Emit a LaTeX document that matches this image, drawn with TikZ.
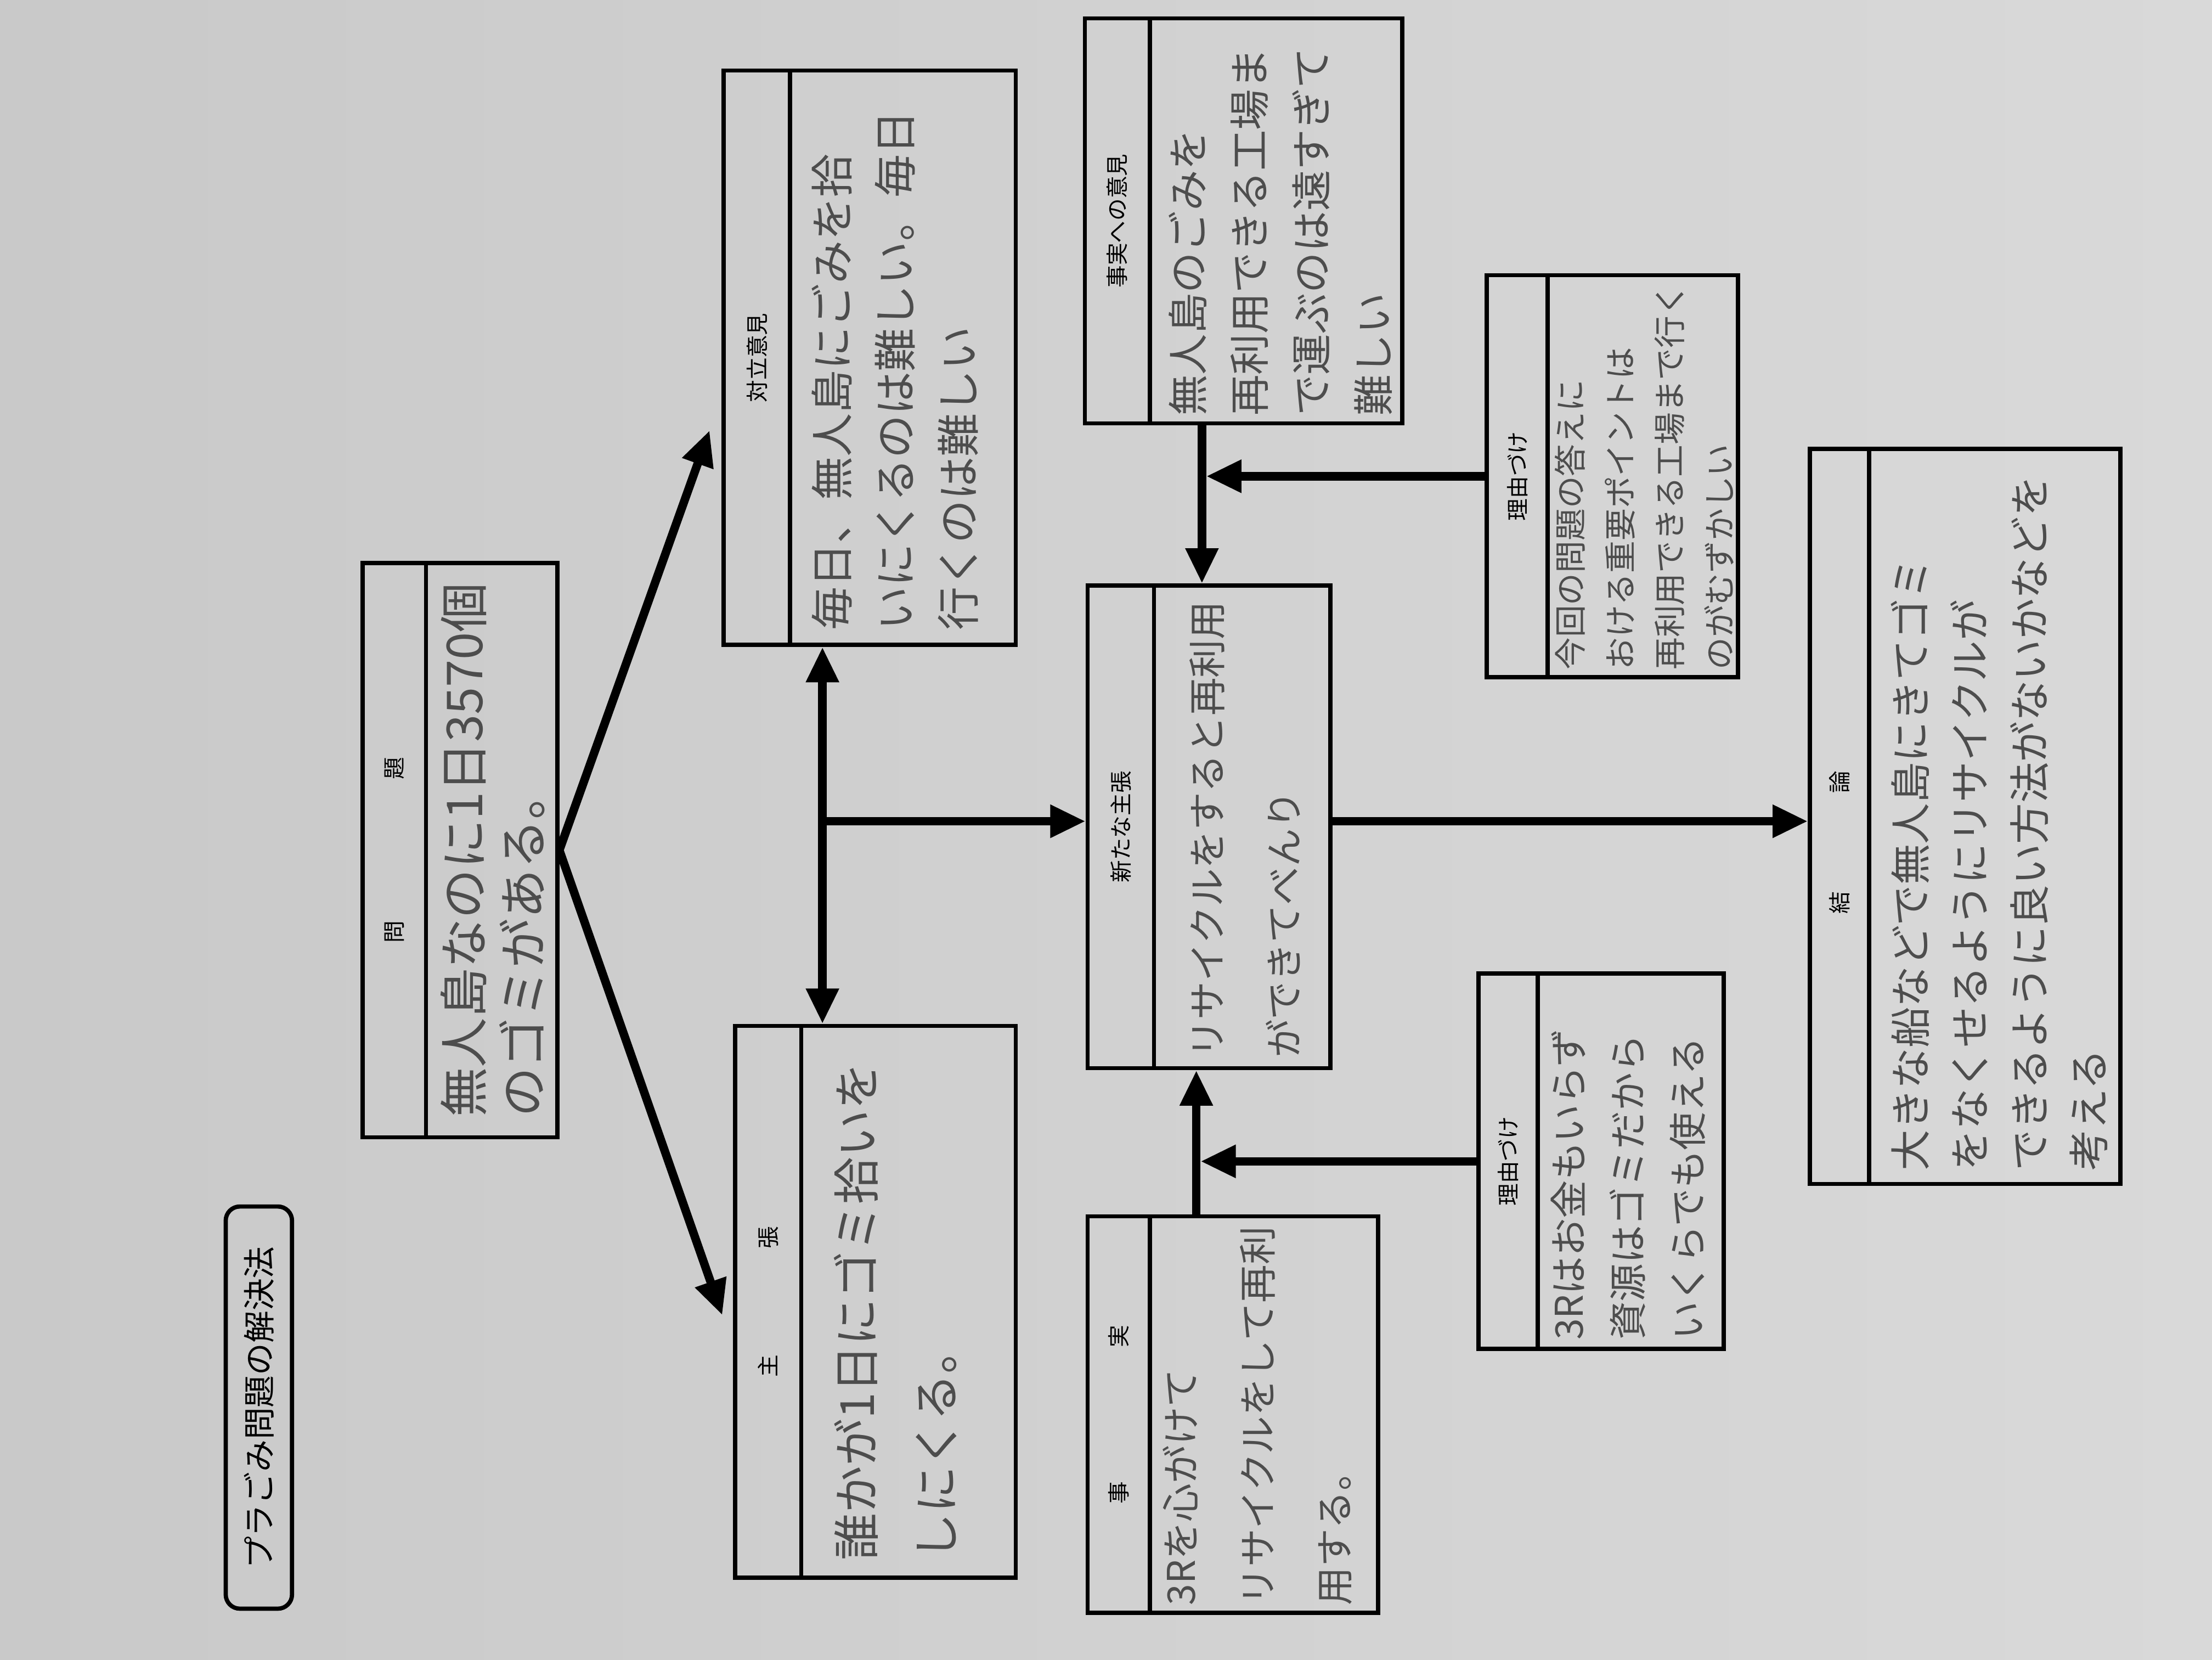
\documentclass[tikz,border=0pt]{standalone}
\usepackage{fontspec}
\newfontfamily\jpfont{Noto Sans CJK JP}
\usetikzlibrary{arrows.meta,fit,calc}
\definecolor{paperL}{HTML}{C9C9C9}
\definecolor{paperR}{HTML}{D9D9D9}
\definecolor{pencil}{HTML}{4D4D4D}
\tikzset{
  sheet/.style={draw=black, line width=0.6mm, inner sep=0pt},
  headlabel/.style={font=\jpfont\fontsize{9pt}{11pt}\selectfont, rotate=90, inner sep=0pt},
  hand/.style 2 args={font=\jpfont\fontsize{#1}{#2}\selectfont, text=pencil, rotate=90, anchor=north west, align=left, inner sep=0pt},
  flow/.style={line width=1.2mm, -{Triangle[length=5mm,width=4.4mm]}},
  flowboth/.style={line width=1.2mm, {Triangle[length=5mm,width=4.4mm]}-{Triangle[length=5mm,width=4.4mm]}},
}
\begin{document}
\begin{tikzpicture}[x=0.2mm,y=-0.2mm]
  \shade[left color=paperL, right color=paperR] (0,0) rectangle (1568,1176);
  \useasboundingbox (0,0) rectangle (1568,1176);

  \node[sheet, rounded corners=2mm, fit={(160,855) (207,1140)}] (title) {};
  \node[rotate=90, font=\jpfont\fontsize{13pt}{15pt}\selectfont] (title-text) at (title.center) {プラごみ問題の解決法};

  \node[sheet, fit={(257,399) (395,806)}] (mondai) {};
  \draw[line width=0.6mm] (302,399) -- (302,806);
  \node[headlabel] (mondai-head) at (279.5,602.5) {問\hspace{20mm}題};
  \node[hand={20pt}{24pt}] (mondai-text) at (312,792) {無人島なのに1日3570個\\のゴミがある。};

  \node[sheet, fit={(513,50) (720,457)}] (tairitsu) {};
  \draw[line width=0.6mm] (560,50) -- (560,457);
  \node[headlabel] (tairitsu-head) at (536.5,253.5) {対立意見};
  \node[hand={17.5pt}{25.5pt}] (tairitsu-text) at (575,447) {毎日、無人島にごみを拾\\いにくるのは難しい。毎日\\行くのは難しい};

  \node[sheet, fit={(521,727) (720,1118)}] (shuchou) {};
  \draw[line width=0.6mm] (568,727) -- (568,1118);
  \node[headlabel] (shuchou-head) at (544.5,922.5) {主\hspace{15mm}張};
  \node[hand={19pt}{32pt}] (shuchou-text) at (591,1106) {誰かが1日にゴミ拾いを\\しにくる。};

  \node[sheet, fit={(771,415) (943,757)}] (arata) {};
  \draw[line width=0.6mm] (818,415) -- (818,757);
  \node[headlabel] (arata-head) at (794.5,586) {新たな主張};
  \node[hand={15.4pt}{31pt}] (arata-text) at (843,750) {リサイクルをすると再利用\\ができてべんり};

  \node[sheet, fit={(769,13) (994,300)}] (jijitsuiken) {};
  \draw[line width=0.6mm] (815,13) -- (815,300);
  \node[headlabel] (jijitsuiken-head) at (792,156.5) {事実への意見};
  \node[hand={16.5pt}{25pt}] (jijitsuiken-text) at (828,295) {無人島のごみを\\再利用できる工場ま\\で運ぶのは遠すぎて\\難しい};

  \node[sheet, fit={(1054,195) (1232,480)}] (riyuA) {};
  \draw[line width=0.6mm] (1097,195) -- (1097,480);
  \node[headlabel] (riyuA-head) at (1075.5,337.5) {理由づけ};
  \node[hand={13pt}{20pt}] (riyuA-text) at (1102,475) {今回の問題の答えに\\おける重要ポイントは\\再利用できる工場まで行く\\のがむずかしい};

  \node[sheet, fit={(1048,690) (1222,956)}] (riyuB) {};
  \draw[line width=0.6mm] (1090,690) -- (1090,956);
  \node[headlabel] (riyuB-head) at (1069,823) {理由づけ};
  \node[hand={15.4pt}{24pt}] (riyuB-text) at (1099,950) {3Rはお金もいらず\\資源はゴミだから\\いくらでも使える};

  \node[sheet, fit={(771,862) (977,1143)}] (jijitsu) {};
  \draw[line width=0.6mm] (815,862) -- (815,1143);
  \node[headlabel] (jijitsu-head) at (793,1002.5) {事\hspace{19mm}実};
  \node[hand={15.4pt}{31pt}] (jijitsu-text) at (824,1138) {3Rを心がけて\\リサイクルをして再利\\用する。};

  \node[sheet, fit={(1283,318) (1503,839)}] (ketsuron) {};
  \draw[line width=0.6mm] (1325,318) -- (1325,839);
  \node[headlabel] (ketsuron-head) at (1304,597) {結\hspace{14mm}論};
  \node[hand={16.5pt}{24pt}] (ketsuron-text) at (1340,830) {大きな船などで無人島にきてゴミ\\をなくせるようにリサイクルが\\できるように良い方法がないかなどを\\考える};

  \coordinate (hub) at (583,582);
  \coordinate (upTip) at (503,305);
  \coordinate (downTip) at (512,932);
  \coordinate (vA) at (852,0);
  \coordinate (vB) at (848,0);

  \draw[flow] (mondai.east) -- (upTip);
  \draw[flow] (mondai.east) -- (downTip);
  \draw[flowboth] (hub |- tairitsu.south) -- (hub |- shuchou.north);
  \draw[flow] (hub) -- (hub -| arata.west);
  \draw[flow] (hub -| arata.east) -- (hub -| ketsuron.west);
  \draw[flow] (vA |- jijitsuiken.south) -- (vA |- arata.north);
  \draw[flow, shorten >=0.6mm] (riyuA.west) -- (riyuA.west -| vA);
  \draw[flow] (vB |- jijitsu.north) -- (vB |- arata.south);
  \draw[flow, shorten >=0.6mm] (riyuB.west) -- (riyuB.west -| vB);
\end{tikzpicture}
\end{document}
